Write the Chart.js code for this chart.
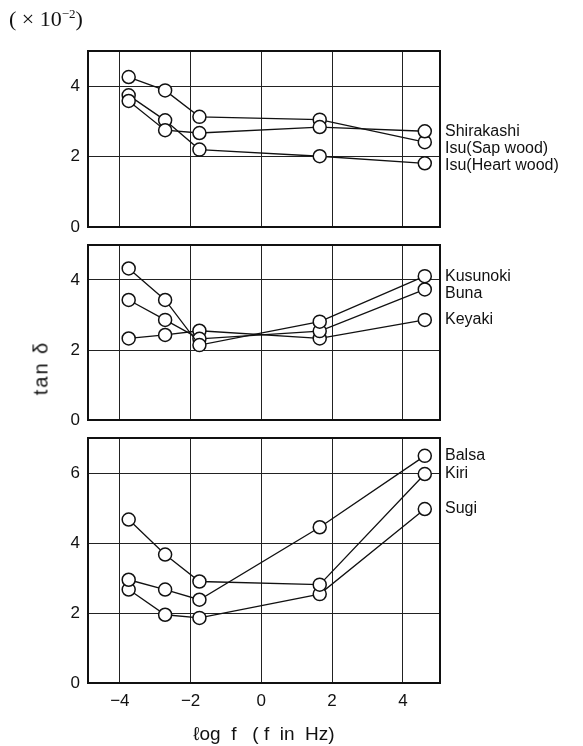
<!DOCTYPE html>
<html>
<head>
<meta charset="utf-8">
<script src="https://cdn.jsdelivr.net/npm/chart.js@4.4.1/dist/chart.umd.min.js"></script>
<style>
  body { margin: 0; background: #fff; width: 583px; height: 746px; position: relative; overflow: hidden; }
  canvas { position: absolute; left: 0; }
  .unit { position: absolute; left: 9px; top: 6px; font: 22px "Liberation Serif", serif; color: #111; z-index: 5; }
  .unit sup { font-size: 13px; }
  .ylab { position: absolute; left: 41px; top: 368px; transform: translate(-50%, -50%) rotate(-90deg);
          font: 20px "Liberation Sans", sans-serif; letter-spacing: 2px; color: #111; white-space: nowrap; z-index: 5; }
</style>
</head>
<body>
<div class="unit">( × 10<sup>−2</sup>)</div>
<div class="ylab">tan δ</div>
<canvas id="c1" width="583" height="247" style="top:0"></canvas>
<canvas id="c2" width="583" height="215" style="top:225px"></canvas>
<canvas id="c3" width="583" height="328" style="top:418px"></canvas>
<script>
// log f positions of the five measurements
const logF = [-3.75, -2.72, -1.75, 1.65, 4.62];

// top panel
const shirakashi = [3.58, 2.75, 2.67, 2.84, 2.72];
const isuSap = [4.26, 3.88, 3.13, 3.05, 2.41];
const isuHeart = [3.74, 3.03, 2.2, 2.01, 1.81];

// middle panel
const kusunoki = [4.33, 3.43, 2.14, 2.81, 4.11];
const buna = [3.43, 2.86, 2.32, 2.54, 3.73];
const keyaki = [2.33, 2.43, 2.55, 2.33, 2.86];

// bottom panel
const balsa = [2.95, 2.67, 2.38, 4.45, 6.49];
const kiri = [4.67, 3.67, 2.9, 2.81, 5.97];
const sugi = [2.67, 1.95, 1.86, 2.54, 4.97];

const xTicks = [-4, -2, 0, 2, 4];
const yTicksSmall = [0, 2, 4];
const yTicksBig = [0, 2, 4, 6];

const INK = '#111';
const tickFont = { family: 'Liberation Sans', size: 17 };

// box round the plot area (Chart.js only draws the axis side)
const frame = {
    id: 'frame',
    beforeDatasetsDraw(chart) {
        const { ctx, chartArea: a } = chart;
        ctx.save();
        ctx.strokeStyle = INK;
        ctx.lineWidth = 2;
        ctx.strokeRect(a.left, a.top, a.right - a.left, a.bottom - a.top);
        ctx.restore();
    }
};

// names written at the right end of each line, pushed apart so they don't overlap
const endLabels = {
    id: 'endLabels',
    afterDraw(chart) {
        const { ctx, chartArea: a } = chart;
        let items = chart.data.datasets.map((ds, i) => {
            const pts = chart.getDatasetMeta(i).data;
            return { text: ds.label, y: pts[pts.length - 1].y };
        });
        items.sort((p, q) => p.y - q.y);
        for (let i = 1; i < items.length; i++) {
            if (items[i].y < items[i - 1].y + 17) items[i].y = items[i - 1].y + 17;
        }
        ctx.save();
        ctx.fillStyle = INK;
        ctx.font = '16px "Liberation Sans"';
        ctx.textBaseline = 'middle';
        items.forEach(it => ctx.fillText(it.text, a.right + 5, it.y));
        ctx.restore();
    }
};

const makePanel = (id, names, series, yTicks, yMax, padTop, padBottom, showX) => {
    const datasets = names.map((name, i) => ({
        label: name,
        data: logF.map((x, j) => ({ x: x, y: series[i][j] })),
        borderColor: INK,
        borderWidth: 1.3,
        pointRadius: 6.5,
        pointBorderWidth: 1.5,
        pointBackgroundColor: '#fff',
        pointBorderColor: INK,
        tension: 0,
        fill: false
    }));

    return new Chart(document.getElementById(id), {
        type: 'line',
        data: { datasets: datasets },
        options: {
            responsive: false,
            animation: false,
            devicePixelRatio: 1,
            layout: { padding: { left: 0, right: 143, top: padTop, bottom: padBottom } },
            plugins: { legend: { display: false }, tooltip: { enabled: false } },
            scales: {
                x: {
                    type: 'linear',
                    min: -4.9,
                    max: 5.05,
                    afterBuildTicks: s => { s.ticks = xTicks.map(v => ({ value: v })); },
                    afterFit: s => { s.height = showX ? 63 : 0; },
                    grid: { color: '#222', lineWidth: 1, drawTicks: false },
                    border: { display: false },
                    ticks: {
                        display: showX,
                        padding: 8,
                        color: INK,
                        font: tickFont,
                        callback: v => (v < 0 ? '−' + Math.abs(v) : String(v))
                    },
                    title: {
                        display: showX,
                        text: 'ℓog  f   ( f  in  Hz)',
                        color: INK,
                        font: { family: 'Liberation Sans', size: 19 },
                        padding: { top: 0, bottom: 0 }
                    }
                },
                y: {
                    type: 'linear',
                    min: 0,
                    max: yMax,
                    afterBuildTicks: s => { s.ticks = yTicks.map(v => ({ value: v })); },
                    afterFit: s => { s.width = 88; },
                    grid: { color: '#222', lineWidth: 1, drawTicks: false },
                    border: { display: false },
                    ticks: { padding: 8, color: INK, font: tickFont }
                }
            }
        },
        plugins: [frame, endLabels]
    });
};

makePanel('c1', ['Shirakashi', 'Isu(Sap wood)', 'Isu(Heart wood)'],
    [shirakashi, isuSap, isuHeart], yTicksSmall, 5, 51, 20, false);
makePanel('c2', ['Kusunoki', 'Buna', 'Keyaki'],
    [kusunoki, buna, keyaki], yTicksSmall, 5, 20, 20, false);
makePanel('c3', ['Balsa', 'Kiri', 'Sugi'],
    [balsa, kiri, sugi], yTicksBig, 7, 20, 0, true);
</script>
</body>
</html>
